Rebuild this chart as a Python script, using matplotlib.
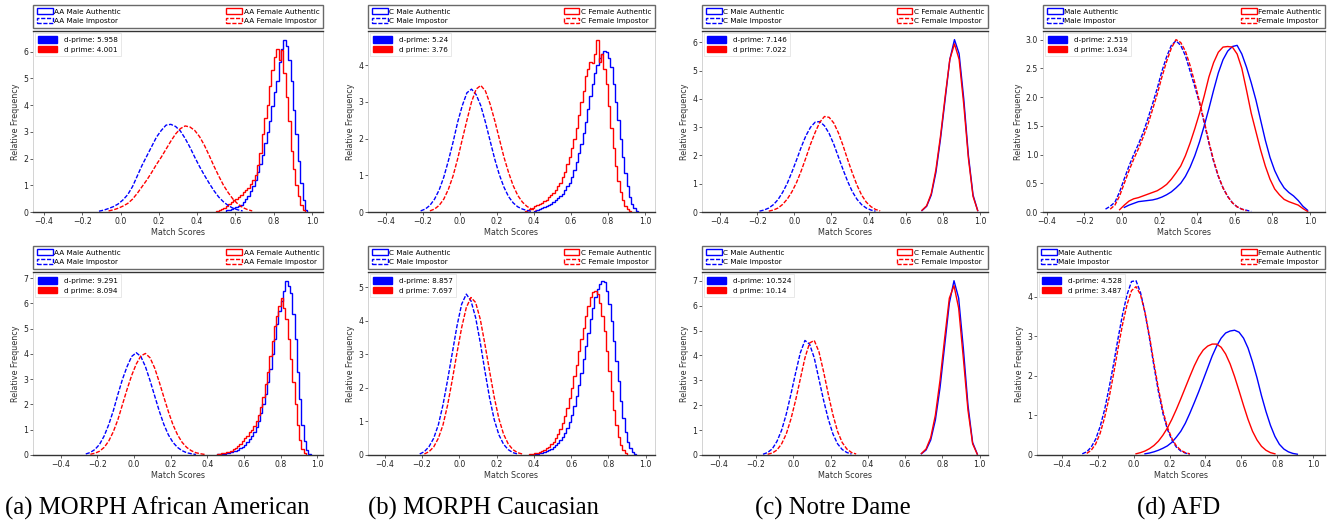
import matplotlib
matplotlib.use("Agg")
import matplotlib.pyplot as plt
import matplotlib.patches as mpatches
import numpy as np

BIN = 0.025      # spacing of the smooth (fine-binned) curves
FINE = 0.0125    # bin width of the steppy authentic histograms (MORPH sets)
W, H = 1327, 524

# ---- (a) MORPH African American, top row ----
a1_m_imp_start = -0.125
a1_m_imp = [0.03, 0.07, 0.13, 0.2, 0.3, 0.45, 0.65, 0.95, 1.35, 1.75, 2.1, 2.45, 2.8, 3.05, 3.25, 3.28,
            3.2, 3.03, 2.75, 2.42, 2.05, 1.7, 1.38, 1.08, 0.8, 0.56, 0.38, 0.24, 0.14, 0.08, 0.04]
a1_f_imp_start = -0.075
a1_f_imp = [0.04, 0.08, 0.14, 0.22, 0.32, 0.48, 0.7, 0.95, 1.2, 1.48, 1.78, 2.05, 2.35, 2.65, 2.92, 3.12,
            3.22, 3.18, 3.05, 2.82, 2.5, 2.12, 1.72, 1.35, 1.0, 0.72, 0.48, 0.3, 0.17, 0.09, 0.04]
a1_m_auth_start = 0.55
a1_m_auth = [0.06, 0.09, 0.12, 0.15, 0.18, 0.22, 0.28, 0.36, 0.47, 0.6, 0.78, 0.98, 1.2, 1.5, 1.8, 2.15,
             2.6, 3.0, 3.4, 3.95, 4.5, 4.9, 5.6, 6.1, 6.45, 6.2, 5.7, 4.9, 3.8, 2.9, 1.9, 1.1, 0.45, 0.08]
a1_f_auth_start = 0.5
a1_f_auth = [0.03, 0.06, 0.1, 0.15, 0.22, 0.3, 0.38, 0.45, 0.5, 0.55, 0.65, 0.75, 0.82, 0.9, 1.05, 1.2,
             1.4, 1.75, 2.2, 2.9, 3.5, 4.0, 4.7, 5.3, 5.8, 6.1, 5.7, 6.05, 5.2, 4.3, 3.4, 2.3, 1.6, 1.0,
             0.6, 0.25, 0.06]

# ---- (b) MORPH Caucasian, top row ----
b1_m_imp_start = -0.225
b1_m_imp = [0.03, 0.08, 0.18, 0.35, 0.6, 0.95, 1.4, 1.9, 2.45, 2.9, 3.25, 3.35, 3.2, 2.9, 2.45, 1.95,
            1.45, 1.02, 0.68, 0.42, 0.25, 0.14, 0.08, 0.04, 0.02]
b1_f_imp_start = -0.175
b1_f_imp = [0.03, 0.08, 0.18, 0.35, 0.62, 0.98, 1.45, 1.98, 2.5, 3.0, 3.35, 3.45, 3.3, 2.95, 2.5, 2.0,
            1.5, 1.08, 0.72, 0.45, 0.27, 0.15, 0.08, 0.04]
b1_m_auth_start = 0.4
b1_m_auth = [0.04, 0.06, 0.08, 0.1, 0.13, 0.15, 0.19, 0.22, 0.27, 0.32, 0.38, 0.43, 0.5, 0.6, 0.7, 0.8,
             0.95, 1.15, 1.35, 1.6, 1.85, 2.15, 2.45, 2.8, 3.15, 3.5, 3.8, 4.0, 4.2, 4.3, 4.4, 4.35,
             4.2, 3.95, 3.5, 3.0, 2.5, 2.0, 1.5, 1.05, 0.7, 0.42, 0.22, 0.1, 0.03]
b1_f_auth_start = 0.35
b1_f_auth = [0.03, 0.05, 0.08, 0.11, 0.15, 0.18, 0.22, 0.25, 0.3, 0.34, 0.4, 0.45, 0.52, 0.6, 0.7, 0.8,
             0.95, 1.1, 1.3, 1.5, 1.75, 2.0, 2.3, 2.65, 3.0, 3.3, 3.7, 3.9, 4.1, 4.05, 4.3, 4.7, 4.1,
             4.3, 3.9, 3.5, 2.9, 2.3, 1.75, 1.25, 0.85, 0.55, 0.32, 0.17, 0.08, 0.03]

# ---- (c) Notre Dame, top row ----
c1_m_imp_start = -0.2
c1_m_imp = [0.03, 0.07, 0.14, 0.26, 0.44, 0.7, 1.02, 1.42, 1.85, 2.3, 2.7, 3.0, 3.18, 3.2, 3.05, 2.78,
            2.4, 1.95, 1.5, 1.08, 0.72, 0.45, 0.26, 0.14, 0.07, 0.03]
c1_f_imp_start = -0.15
c1_f_imp = [0.03, 0.07, 0.14, 0.27, 0.46, 0.72, 1.05, 1.46, 1.92, 2.4, 2.82, 3.18, 3.38, 3.35, 3.15,
            2.8, 2.35, 1.85, 1.38, 0.95, 0.6, 0.35, 0.19, 0.09, 0.04]
c1_m_auth_start = 0.675
c1_m_auth = [0.05, 0.2, 0.6, 1.4, 2.6, 4.0, 5.4, 6.1, 5.6, 4.0, 2.0, 0.6, 0.05]
c1_f_auth_start = 0.675
c1_f_auth = [0.06, 0.22, 0.65, 1.5, 2.7, 4.1, 5.4, 5.95, 5.4, 3.8, 1.9, 0.55, 0.05]

# ---- (d) AFD, top row ----
d1_m_imp_start = -0.1
d1_m_imp = [0.05, 0.1, 0.17, 0.35, 0.58, 0.8, 1.0, 1.18, 1.38, 1.62, 1.88, 2.15, 2.45, 2.7, 2.9, 2.98,
            2.9, 2.72, 2.45, 2.18, 1.9, 1.55, 1.2, 0.88, 0.62, 0.42, 0.27, 0.16, 0.09, 0.05, 0.03, 0.01]
d1_f_imp_start = -0.075
d1_f_imp = [0.05, 0.12, 0.28, 0.5, 0.72, 0.92, 1.1, 1.3, 1.52, 1.78, 2.05, 2.35, 2.62, 2.85, 3.0, 2.95,
            2.8, 2.55, 2.25, 1.92, 1.58, 1.22, 0.9, 0.63, 0.42, 0.27, 0.16, 0.09, 0.05, 0.02]
d1_m_auth_start = 0.0
d1_m_auth = [0.08, 0.12, 0.15, 0.18, 0.19, 0.2, 0.21, 0.23, 0.26, 0.3, 0.35, 0.42, 0.5, 0.62, 0.78,
             0.98, 1.22, 1.5, 1.8, 2.12, 2.42, 2.65, 2.8, 2.88, 2.9, 2.75, 2.52, 2.25, 1.95, 1.6, 1.25,
             0.95, 0.72, 0.55, 0.42, 0.34, 0.28, 0.2, 0.1, 0.03]
d1_f_auth_start = -0.025
d1_f_auth = [0.04, 0.12, 0.19, 0.23, 0.25, 0.28, 0.31, 0.34, 0.37, 0.42, 0.48, 0.57, 0.68, 0.8, 0.98,
             1.2, 1.45, 1.72, 2.02, 2.35, 2.6, 2.78, 2.87, 2.88, 2.87, 2.75, 2.5, 2.12, 1.72, 1.4, 1.08,
             0.8, 0.57, 0.4, 0.3, 0.22, 0.18, 0.15, 0.12, 0.06, 0.01]

# ---- (a) bottom row ----
a2_m_imp_start = -0.275
a2_m_imp = [0.04, 0.1, 0.22, 0.42, 0.75, 1.2, 1.75, 2.4, 3.0, 3.5, 3.9, 4.05, 3.9, 3.5, 2.95, 2.35,
            1.75, 1.22, 0.8, 0.5, 0.3, 0.17, 0.09, 0.05, 0.02]
a2_f_imp_start = -0.25
a2_f_imp = [0.03, 0.07, 0.15, 0.3, 0.55, 0.92, 1.4, 2.0, 2.6, 3.15, 3.6, 3.92, 4.02, 3.85, 3.45, 2.9,
            2.3, 1.72, 1.2, 0.8, 0.5, 0.3, 0.17, 0.09, 0.05, 0.02]
a2_m_auth_start = 0.45
a2_m_auth = [0.02, 0.03, 0.04, 0.05, 0.07, 0.09, 0.11, 0.14, 0.17, 0.21, 0.26, 0.32, 0.4, 0.5, 0.62,
             0.75, 0.9, 1.1, 1.35, 1.65, 2.0, 2.4, 2.9, 3.4, 4.0, 4.6, 5.2, 5.7, 6.1, 6.5, 6.9, 6.7,
             6.4, 5.6, 4.6, 3.3, 2.2, 1.2, 0.55, 0.2, 0.04]
a2_f_auth_start = 0.45
a2_f_auth = [0.03, 0.04, 0.06, 0.08, 0.1, 0.13, 0.17, 0.22, 0.28, 0.35, 0.45, 0.55, 0.68, 0.75, 0.9,
             1.0, 1.15, 1.35, 1.6, 1.9, 2.3, 2.8, 3.3, 3.9, 4.5, 5.1, 5.5, 5.9, 6.2, 5.8, 5.4, 4.6,
             3.8, 2.9, 2.0, 1.2, 0.6, 0.25, 0.07]

# ---- (b) bottom row ----
b2_m_imp_start = -0.225
b2_m_imp = [0.03, 0.1, 0.25, 0.5, 0.9, 1.5, 2.25, 3.05, 3.85, 4.5, 4.8, 4.6, 4.1, 3.35, 2.5, 1.7,
            1.05, 0.6, 0.32, 0.16, 0.07, 0.03]
b2_f_imp_start = -0.2
b2_f_imp = [0.03, 0.1, 0.24, 0.5, 0.9, 1.5, 2.25, 3.05, 3.8, 4.4, 4.7, 4.55, 4.05, 3.3, 2.5, 1.72,
            1.08, 0.62, 0.33, 0.16, 0.07, 0.03]
b2_m_auth_start = 0.4
b2_m_auth = [0.02, 0.04, 0.05, 0.07, 0.09, 0.12, 0.15, 0.19, 0.24, 0.3, 0.36, 0.44, 0.54, 0.66, 0.8,
             0.98, 1.2, 1.45, 1.75, 2.1, 2.45, 2.85, 3.25, 3.65, 4.05, 4.4, 4.7, 4.95, 5.1, 5.2, 5.15,
             4.9, 4.5, 4.0, 3.4, 2.8, 2.2, 1.6, 1.1, 0.7, 0.4, 0.2, 0.08, 0.03]
b2_f_auth_start = 0.375
b2_f_auth = [0.02, 0.04, 0.05, 0.07, 0.09, 0.12, 0.15, 0.2, 0.25, 0.32, 0.4, 0.5, 0.62, 0.78, 0.95,
             1.15, 1.4, 1.7, 2.0, 2.35, 2.7, 3.1, 3.45, 3.8, 4.15, 4.45, 4.7, 4.85, 4.9, 4.8, 4.55,
             4.15, 3.7, 3.1, 2.5, 1.9, 1.35, 0.9, 0.55, 0.3, 0.14, 0.06]

# ---- (c) bottom row ----
c2_m_imp_start = -0.175
c2_m_imp = [0.03, 0.1, 0.25, 0.55, 1.0, 1.65, 2.45, 3.3, 4.1, 4.6, 4.45, 3.9, 3.05, 2.2, 1.45, 0.85,
            0.45, 0.22, 0.1, 0.04]
c2_f_imp_start = -0.15
c2_f_imp = [0.03, 0.08, 0.2, 0.45, 0.85, 1.45, 2.2, 3.05, 3.9, 4.5, 4.6, 4.15, 3.35, 2.45, 1.62, 0.95,
            0.5, 0.24, 0.1, 0.04]
c2_m_auth_start = 0.675
c2_m_auth = [0.05, 0.2, 0.6, 1.4, 2.7, 4.4, 6.1, 7.0, 6.3, 4.3, 2.0, 0.5, 0.04]
c2_f_auth_start = 0.675
c2_f_auth = [0.06, 0.24, 0.7, 1.6, 3.0, 4.7, 6.3, 6.8, 5.9, 3.9, 1.8, 0.45, 0.03]

# ---- (d) bottom row ----
d2_m_imp_start = -0.3
d2_m_imp = [0.03, 0.08, 0.2, 0.4, 0.72, 1.15, 1.7, 2.3, 2.95, 3.55, 4.05, 4.38, 4.4, 4.1, 3.6, 2.95,
            2.25, 1.6, 1.05, 0.65, 0.38, 0.2, 0.1, 0.05, 0.02]
d2_f_imp_start = -0.275
d2_f_imp = [0.04, 0.12, 0.28, 0.55, 0.95, 1.45, 2.05, 2.7, 3.3, 3.8, 4.15, 4.25, 4.05, 3.6, 3.0, 2.32,
            1.68, 1.12, 0.7, 0.42, 0.23, 0.12, 0.06, 0.03]
d2_m_auth_start = 0.05
d2_m_auth = [0.03, 0.05, 0.08, 0.12, 0.17, 0.23, 0.32, 0.45, 0.6, 0.8, 1.05, 1.32, 1.6, 1.9, 2.2, 2.5,
             2.75, 2.95, 3.08, 3.13, 3.15, 3.1, 2.95, 2.7, 2.35, 1.95, 1.5, 1.1, 0.75, 0.47, 0.27, 0.15,
             0.08, 0.04, 0.02]
d2_f_auth_start = 0.0
d2_f_auth = [0.03, 0.06, 0.1, 0.16, 0.24, 0.35, 0.5, 0.68, 0.9, 1.15, 1.42, 1.7, 1.98, 2.25, 2.48, 2.65,
             2.75, 2.8, 2.8, 2.72, 2.55, 2.3, 1.98, 1.62, 1.25, 0.9, 0.6, 0.38, 0.22, 0.12, 0.06, 0.03]

prefixes = ["AA ", "C ", "C ", ""]
dprimes_top = [("5.958", "4.001"), ("5.24", "3.76"), ("7.146", "7.022"), ("2.519", "1.634")]
dprimes_bot = [("9.291", "8.094"), ("8.857", "7.697"), ("10.524", "10.14"), ("4.528", "3.487")]
captions = ["(a) MORPH African American", "(b) MORPH Caucasian", "(c) Notre Dame", "(d) AFD"]
caption_x = [157, 483, 833, 1179]
# authentic curves of the MORPH sets keep their histogram steps
steppy_auth = [True, True, False, False]

top_curves = [
    [(a1_m_auth_start, a1_m_auth), (a1_m_imp_start, a1_m_imp), (a1_f_auth_start, a1_f_auth), (a1_f_imp_start, a1_f_imp)],
    [(b1_m_auth_start, b1_m_auth), (b1_m_imp_start, b1_m_imp), (b1_f_auth_start, b1_f_auth), (b1_f_imp_start, b1_f_imp)],
    [(c1_m_auth_start, c1_m_auth), (c1_m_imp_start, c1_m_imp), (c1_f_auth_start, c1_f_auth), (c1_f_imp_start, c1_f_imp)],
    [(d1_m_auth_start, d1_m_auth), (d1_m_imp_start, d1_m_imp), (d1_f_auth_start, d1_f_auth), (d1_f_imp_start, d1_f_imp)],
]
bot_curves = [
    [(a2_m_auth_start, a2_m_auth), (a2_m_imp_start, a2_m_imp), (a2_f_auth_start, a2_f_auth), (a2_f_imp_start, a2_f_imp)],
    [(b2_m_auth_start, b2_m_auth), (b2_m_imp_start, b2_m_imp), (b2_f_auth_start, b2_f_auth), (b2_f_imp_start, b2_f_imp)],
    [(c2_m_auth_start, c2_m_auth), (c2_m_imp_start, c2_m_imp), (c2_f_auth_start, c2_f_auth), (c2_f_imp_start, c2_f_imp)],
    [(d2_m_auth_start, d2_m_auth), (d2_m_imp_start, d2_m_imp), (d2_f_auth_start, d2_f_auth), (d2_f_imp_start, d2_f_imp)],
]

# axes boxes in pixels (left, right), rows (top, bottom)
cols_top = [(33, 323), (368, 655), (702, 988), (1043, 1325)]
cols_bot = [(33, 323), (368, 655), (702, 988), (1037, 1325)]
rows = [(31, 212), (272, 455)]
xlims_top = [(-0.457, 1.057), (-0.497, 1.054), (-0.497, 1.043), (-0.42, 1.08)]
xlims_bot = [(-0.55, 1.03), (-0.49, 1.05), (-0.49, 1.045), (-0.54, 1.067)]

styles = [("blue", "-"), ("blue", (0, (3, 1.2))), ("red", "-"), ("red", (0, (3, 1.2)))]
kinds = ["Male Authentic", "Male Impostor", "Female Authentic", "Female Impostor"]

fig = plt.figure(figsize=(W / 100, H / 100), dpi=100)


def draw_panel(box, row, curves, xlim, prefix, dps, steppy):
    l, r = box
    t, b = row
    ax = fig.add_axes([l / W, 1 - b / H, (r - l) / W, (b - t) / H])
    ymax = 0
    for k, ((start, vals), (col, ls)) in enumerate(zip(curves, styles)):
        if steppy and k in (0, 2):
            edges = start + FINE * np.arange(len(vals) + 1)
            ax.stairs(vals, edges, color=col, linestyle=ls, linewidth=1.0)
        else:
            xs = start + BIN * (np.arange(len(vals)) + 0.5)
            ax.plot(xs, vals, color=col, linestyle=ls, linewidth=1.0)
        ymax = max(ymax, max(vals))
    ax.set_xlim(*xlim)
    ax.set_ylim(0, ymax * 1.05)
    ax.set_xticks(np.arange(-0.4, 1.01, 0.2))
    ax.tick_params(labelsize=5.6, length=2, width=0.5, pad=1.5, colors="#222222")
    ax.set_xlabel("Match Scores", fontsize=5.8, labelpad=1.5, color="#333333")
    ax.set_ylabel("Relative Frequency", fontsize=5.8, labelpad=2, color="#333333")
    for s in ["left", "right"]:
        ax.spines[s].set_color("#cccccc")
        ax.spines[s].set_linewidth(0.6)
    for s in ["top", "bottom"]:
        ax.spines[s].set_color("#333333")
        ax.spines[s].set_linewidth(1.0)

    handles = [mpatches.Patch(facecolor="none", edgecolor=c, linestyle=ls, linewidth=1.0)
               for c, ls in styles]
    labels = [prefix + k for k in kinds]
    leg = ax.legend(handles, labels, bbox_to_anchor=(0, 1.018, 1, 0.11), loc="lower left",
                    ncol=2, mode="expand", borderaxespad=0, fontsize=5.2, frameon=True,
                    fancybox=False, handlelength=2.2, handleheight=0.8, labelspacing=0.45,
                    borderpad=0.5, handletextpad=0.2)
    leg.get_frame().set_edgecolor("#444444")
    leg.get_frame().set_linewidth(1.0)
    ax.add_artist(leg)

    dh = [mpatches.Patch(color="blue"), mpatches.Patch(color="red")]
    dl = ["d-prime: " + dps[0], "d prime: " + dps[1]]
    leg2 = ax.legend(dh, dl, loc="upper left", fontsize=5.2, fancybox=False,
                     handlelength=2.6, handleheight=1.0, labelspacing=0.45, borderpad=0.4,
                     handletextpad=1.0, borderaxespad=0.3)
    leg2.get_frame().set_edgecolor("#dddddd")
    leg2.get_frame().set_linewidth(0.6)
    return ax


for i in range(4):
    draw_panel(cols_top[i], rows[0], top_curves[i], xlims_top[i], prefixes[i], dprimes_top[i], steppy_auth[i])
    draw_panel(cols_bot[i], rows[1], bot_curves[i], xlims_bot[i], prefixes[i], dprimes_bot[i], steppy_auth[i])
    fig.text(caption_x[i] / W, 1 - 508 / H, captions[i], ha="center", va="center",
             fontsize=17.8, family="Liberation Serif")

fig.savefig("out.png", dpi=100)
